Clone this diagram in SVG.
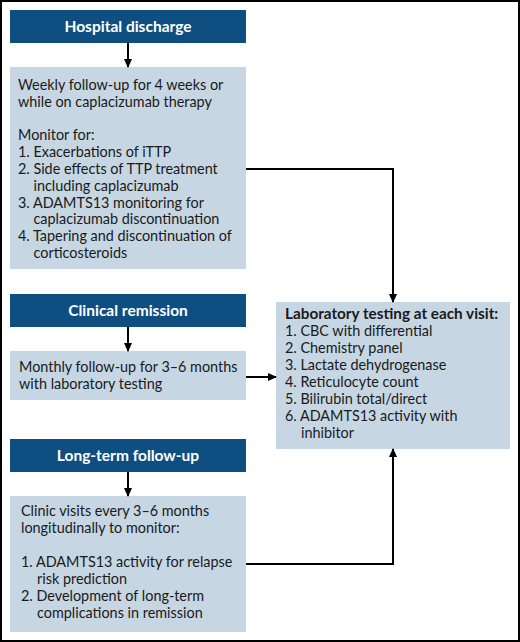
<svg xmlns="http://www.w3.org/2000/svg" width="520" height="642" viewBox="0 0 520 642">
<defs>
<style>
.hdr{fill:#0f4e80}
.box{fill:#c6d6e3}
.ht{font-family:Lato,"Noto Sans",sans-serif;font-weight:bold;font-size:15.5px;fill:#fff;text-anchor:middle}
.t{font-family:Lato,"Noto Sans",sans-serif;font-size:14.4px;fill:#1a1a1a}
.b{font-weight:bold;font-size:15.3px}
.ln{fill:none;stroke:#000;stroke-width:2}
</style>
<marker id="ah" viewBox="0 0 10 10" refX="9" refY="5" markerWidth="9" markerHeight="9" markerUnits="userSpaceOnUse" orient="auto"><path d="M0,0.5L10,5L0,9.5z" fill="#000"/></marker>
</defs>
<rect x="1" y="1" width="518" height="640" fill="#fff" stroke="#000" stroke-width="2"/>
<g id="h1"><rect class="hdr" x="10" y="10" width="236" height="33"/><text class="ht" x="128" y="32">Hospital discharge</text></g>
<g id="b1"><rect class="box" x="10" y="67" width="236" height="202"/>
<text class="t" x="18" y="90">Weekly follow-up for 4 weeks or</text>
<text class="t" x="18" y="106.8">while on caplacizumab therapy</text>
<text class="t" x="18" y="140.4">Monitor for:</text>
<text class="t" x="18" y="157.2">1. Exacerbations of iTTP</text>
<text class="t" x="18" y="174">2. Side effects of TTP treatment</text>
<text class="t" x="33.5" y="190.8">including caplacizumab</text>
<text class="t" x="18" y="207.6">3. ADAMTS13 monitoring for</text>
<text class="t" x="33.5" y="224.4">caplacizumab discontinuation</text>
<text class="t" x="18" y="241.2">4. Tapering and discontinuation of</text>
<text class="t" x="33.5" y="258">corticosteroids</text>
</g>
<g id="h2"><rect class="hdr" x="10" y="294" width="236" height="33"/><text class="ht" x="128" y="316">Clinical remission</text></g>
<g id="b2"><rect class="box" x="10" y="351" width="236" height="49"/>
<text class="t" x="19" y="372">Monthly follow-up for 3–6 months</text>
<text class="t" x="19" y="389">with laboratory testing</text>
</g>
<g id="lab"><rect class="box" x="276" y="302" width="234" height="147"/>
<text class="t b" x="285" y="319">Laboratory testing at each visit:</text>
<text class="t" x="285" y="336">1. CBC with differential</text>
<text class="t" x="285" y="353">2. Chemistry panel</text>
<text class="t" x="285" y="370">3. Lactate dehydrogenase</text>
<text class="t" x="285" y="387">4. Reticulocyte count</text>
<text class="t" x="285" y="404">5. Bilirubin total/direct</text>
<text class="t" x="285" y="421">6. ADAMTS13 activity with</text>
<text class="t" x="301" y="438">inhibitor</text>
</g>
<g id="h3"><rect class="hdr" x="10" y="439" width="236" height="33"/><text class="ht" x="128" y="461">Long-term follow-up</text></g>
<g id="b3"><rect class="box" x="10" y="496" width="236" height="136"/>
<text class="t" x="21" y="516">Clinic visits every 3–6 months</text>
<text class="t" x="21" y="533">longitudinally to monitor:</text>
<text class="t" x="21" y="567">1. ADAMTS13 activity for relapse</text>
<text class="t" x="37" y="584">risk prediction</text>
<text class="t" x="21" y="601">2. Development of long-term</text>
<text class="t" x="37" y="618">complications in remission</text>
</g>
<g id="connectors">
<path class="ln" d="M128,43V67" marker-end="url(#ah)"/>
<path class="ln" d="M128,327V351" marker-end="url(#ah)"/>
<path class="ln" d="M128,472V496" marker-end="url(#ah)"/>
<path class="ln" d="M246,169H393V302" marker-end="url(#ah)"/>
<path class="ln" d="M246,377H276" marker-end="url(#ah)"/>
<path class="ln" d="M246,564H393V449" marker-end="url(#ah)"/>
</g>
</svg>
